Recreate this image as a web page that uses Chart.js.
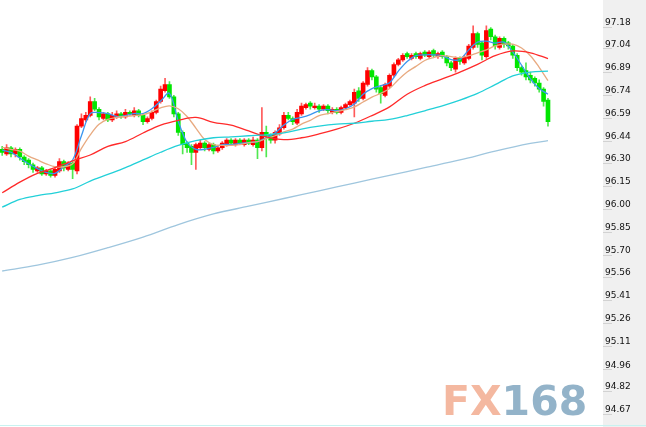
<!DOCTYPE html>
<html>
<head>
<meta charset="utf-8">
<script src="https://cdn.jsdelivr.net/npm/chart.js@4.4.1/dist/chart.umd.min.js"></script>
<style>
  html, body { margin: 0; padding: 0; background: #fff; }
  #wrap { width: 646px; height: 427px; }
</style>
</head>
<body>
<div id="wrap"><canvas id="chart" width="646" height="427"></canvas></div>
<script>
// price axis labels (right side)
const yTicks = [97.18, 97.04, 96.89, 96.74, 96.59, 96.44, 96.30, 96.15, 96.00,
  95.85, 95.70, 95.56, 95.41, 95.26, 95.11, 94.96, 94.82, 94.67];

// candles, read left to right
const opens = [
  96.36,96.33,96.37,96.33,96.36,96.31,96.29,96.26,96.22,96.24,
  96.20,96.22,96.19,96.22,96.28,96.23,96.27,96.22,96.51,96.55,
  96.58,96.67,96.62,96.56,96.59,96.55,96.57,96.59,96.57,96.60,
  96.58,96.61,96.58,96.54,96.56,96.60,96.67,96.74,96.78,96.70,
  96.59,96.47,96.40,96.38,96.34,96.37,96.40,96.36,96.39,96.35,
  96.37,96.39,96.42,96.39,96.42,96.39,96.42,96.39,96.42,96.37,
  96.47,96.45,96.42,96.46,96.50,96.58,96.56,96.53,96.59,96.63,
  96.66,96.63,96.64,96.62,96.64,96.60,96.62,96.60,96.63,96.65,
  96.66,96.74,96.69,96.78,96.87,96.83,96.76,96.71,96.77,96.84,
  96.91,96.94,96.98,96.95,96.98,96.95,96.99,96.96,97.00,96.96,
  96.99,96.96,96.92,96.88,96.95,96.92,96.95,97.02,97.11,97.05,
  96.96,97.14,97.09,97.02,97.08,97.05,97.03,96.97,96.89,96.87,
  96.84,96.82,96.79,96.75,96.68];
const highs = [
  96.38,96.39,96.38,96.37,96.37,96.32,96.30,96.27,96.25,96.25,
  96.23,96.23,96.24,96.30,96.29,96.28,96.28,96.52,96.59,96.60,
  96.70,96.69,96.63,96.60,96.60,96.60,96.61,96.60,96.62,96.61,
  96.63,96.62,96.59,96.57,96.61,96.68,96.77,96.82,96.80,96.71,
  96.60,96.48,96.41,96.39,96.40,96.42,96.41,96.40,96.40,96.38,
  96.41,96.43,96.43,96.43,96.43,96.43,96.43,96.44,96.43,96.63,
  96.51,96.46,96.48,96.52,96.60,96.60,96.57,96.62,96.66,96.66,
  96.67,96.66,96.65,96.65,96.65,96.63,96.63,96.64,96.66,96.68,
  96.75,96.76,96.80,96.89,96.88,96.84,96.77,96.79,96.85,96.92,
  96.95,96.98,96.99,96.98,96.99,96.99,97.00,97.00,97.01,96.99,
  97.00,96.97,96.93,96.96,96.96,96.97,97.04,97.16,97.12,97.06,
  97.16,97.15,97.10,97.09,97.09,97.06,97.04,96.98,96.90,96.92,
  96.86,96.83,96.81,96.76,96.69];
const lows = [
  96.32,96.32,96.31,96.31,96.29,96.26,96.24,96.21,96.21,96.19,
  96.19,96.18,96.18,96.21,96.22,96.22,96.17,96.20,96.50,96.54,
  96.57,96.61,96.55,96.55,96.54,96.54,96.56,96.56,96.56,96.58,
  96.57,96.57,96.52,96.53,96.55,96.59,96.66,96.73,96.69,96.57,
  96.45,96.33,96.34,96.26,96.23,96.36,96.35,96.35,96.33,96.34,
  96.36,96.38,96.39,96.38,96.39,96.38,96.39,96.38,96.30,96.35,
  96.31,96.40,96.40,96.45,96.49,96.55,96.52,96.52,96.58,96.62,
  96.62,96.62,96.60,96.61,96.59,96.59,96.59,96.59,96.62,96.64,
  96.57,96.67,96.68,96.77,96.81,96.73,96.66,96.70,96.76,96.83,
  96.90,96.93,96.95,96.94,96.95,96.94,96.96,96.95,96.96,96.95,
  96.95,96.90,96.87,96.86,96.91,96.91,96.94,97.01,97.02,96.94,
  96.95,97.07,97.01,97.01,97.02,97.01,96.95,96.87,96.84,96.81,
  96.79,96.77,96.73,96.64,96.51];
const closes = [
  96.34,96.37,96.33,96.36,96.31,96.28,96.26,96.23,96.24,96.20,
  96.22,96.19,96.23,96.28,96.24,96.27,96.23,96.51,96.56,96.58,
  96.67,96.62,96.57,96.59,96.55,96.58,96.59,96.57,96.60,96.59,
  96.61,96.58,96.54,96.56,96.60,96.67,96.75,96.78,96.70,96.59,
  96.47,96.39,96.37,96.34,96.39,96.40,96.37,96.39,96.35,96.37,
  96.40,96.42,96.40,96.42,96.40,96.42,96.40,96.42,96.37,96.47,
  96.45,96.42,96.47,96.50,96.58,96.56,96.54,96.60,96.64,96.65,
  96.64,96.64,96.62,96.64,96.61,96.62,96.60,96.63,96.65,96.67,
  96.73,96.69,96.79,96.87,96.83,96.75,96.72,96.78,96.84,96.91,
  96.94,96.97,96.96,96.97,96.96,96.98,96.97,96.99,96.97,96.98,
  96.96,96.92,96.89,96.95,96.93,96.96,97.03,97.11,97.04,96.97,
  97.13,97.09,97.03,97.08,97.04,97.03,96.97,96.89,96.86,96.83,
  96.81,96.79,96.75,96.67,96.54];

// moving average lines, read at every 2nd candle (short ones)
const ma5 = [
  96.354,96.341,96.304,96.266,96.235,96.210,96.204,96.247,96.291,96.448,
  96.592,96.598,96.592,96.573,96.579,96.592,96.592,96.623,96.673,96.723,
  96.542,96.404,96.360,96.360,96.373,96.391,96.391,96.398,96.404,96.410,
  96.435,96.466,96.517,96.554,96.567,96.585,96.610,96.617,96.610,96.623,
  96.654,96.717,96.754,96.773,96.792,96.867,96.930,96.967,96.973,96.973,
  96.967,96.942,96.942,97.005,97.055,97.061,97.049,97.055,96.992,96.905,
  96.817,96.754,96.717];
const ma10 = [
  96.373,96.360,96.348,96.316,96.291,96.266,96.247,96.247,96.266,96.366,
  96.454,96.523,96.554,96.567,96.573,96.579,96.585,96.604,96.629,96.642,
  96.623,96.573,96.498,96.423,96.391,96.385,96.385,96.391,96.404,96.410,
  96.429,96.448,96.473,96.491,96.523,96.548,96.579,96.592,96.604,96.617,
  96.635,96.667,96.698,96.723,96.754,96.811,96.861,96.898,96.936,96.955,
  96.967,96.961,96.955,96.967,96.986,97.005,97.030,97.042,97.042,97.017,
  96.967,96.892,96.805];
// longer ones, read at every 4th candle
const ma30 = [
  96.078,96.147,96.204,96.241,96.285,96.323,96.379,96.410,96.466,96.517,
  96.548,96.567,96.535,96.517,96.479,96.441,96.423,96.435,96.460,96.491,
  96.529,96.579,96.635,96.717,96.773,96.817,96.861,96.911,96.967,96.998,
  96.986,96.948];
const ma60 = [
  95.985,96.035,96.060,96.078,96.103,96.154,96.197,96.241,96.291,96.341,
  96.385,96.416,96.435,96.441,96.448,96.454,96.466,96.491,96.510,96.523,
  96.529,96.542,96.554,96.579,96.610,96.642,96.679,96.723,96.779,96.836,
  96.861,96.867];
// longest one, candle index of each reading
const ma200Idx = [0, 8, 16, 24, 32, 40, 48, 56, 64, 72, 80, 88, 96, 104, 112, 120, 124];
const ma200 = [
  95.571,95.609,95.659,95.722,95.791,95.872,95.941,95.991,96.041,96.091,
  96.141,96.191,96.241,96.291,96.348,96.398,96.416];

const UP = '#ff0000', DOWN = '#00e600';
const UP_WICK = '#ff5a5a', DOWN_WICK = '#50e850';
const isUp = i => closes[i] >= opens[i];

const wicks = closes.map((c, i) => ({ x: i, y: [lows[i], highs[i]] }));
const bodies = closes.map((c, i) => ({ x: i, y: [opens[i], c] }));
const pts = (vals, step) => vals.map((v, k) => ({ x: k * step, y: v }));

// grey panel behind the price axis, small tick marks, bottom rule and FX168 mark
const decor = {
  id: 'decor',
  beforeDraw(chart) {
    const { ctx } = chart;
    const ys = chart.scales.y;
    ctx.save();
    ctx.fillStyle = '#f0f0f0';
    ctx.fillRect(ys.left, 0, ys.right - ys.left, chart.height);
    ctx.strokeStyle = '#d2d2d2';
    ctx.lineWidth = 1;
    ctx.beginPath();
    yTicks.forEach(v => {
      const y = Math.round(ys.getPixelForValue(v)) + 4.5;
      ctx.moveTo(ys.left, y);
      ctx.lineTo(ys.left + 9, y);
    });
    ctx.stroke();
    ctx.restore();
  },
  beforeDatasetsDraw(chart) {
    const { ctx } = chart;
    ctx.save();
    ctx.font = 'bold 41px "DejaVu Sans"';
    ctx.textBaseline = 'alphabetic';
    ctx.fillStyle = '#f4b8a0';
    ctx.fillText('FX', 442, 415);
    const w = ctx.measureText('FX').width;
    ctx.fillStyle = '#93b3c9';
    ctx.fillText('168', 442 + w, 415);
    ctx.restore();
  },
  afterDraw(chart) {
    const { ctx } = chart;
    ctx.save();
    ctx.strokeStyle = '#c8f2f0';
    ctx.lineWidth = 1;
    ctx.beginPath();
    ctx.moveTo(0, 425.5);
    ctx.lineTo(chart.width, 425.5);
    ctx.stroke();
    ctx.restore();
  }
};

const lineDs = (label, data, color) => ({
  type: 'line',
  label,
  data,
  borderColor: color,
  borderWidth: 1.3,
  pointRadius: 0,
  tension: 0.35,
  order: 0
});

new Chart(document.getElementById('chart'), {
  type: 'bar',
  data: {
    datasets: [
      lineDs('MA200', ma200.map((v, k) => ({ x: ma200Idx[k], y: v })), '#9fc6de'),
      lineDs('MA60', pts(ma60, 4), '#22d0d8'),
      lineDs('MA30', pts(ma30, 4), '#ff2a2a'),
      lineDs('MA10', pts(ma10, 2), '#e8aa80'),
      lineDs('MA5', pts(ma5, 2), '#3a96f0'),
      {
        label: 'body',
        data: bodies,
        backgroundColor: bodies.map((b, i) => isUp(i) ? UP : DOWN),
        barThickness: 4,
        minBarLength: 1,
        grouped: false,
        order: 1
      },
      {
        label: 'wick',
        data: wicks,
        backgroundColor: wicks.map((w, i) => isUp(i) ? UP_WICK : DOWN_WICK),
        barThickness: 1,
        grouped: false,
        order: 2
      }
    ]
  },
  options: {
    responsive: false,
    animation: false,
    devicePixelRatio: 1,
    layout: { padding: 0 },
    plugins: { legend: { display: false }, tooltip: { enabled: false } },
    scales: {
      x: {
        type: 'linear',
        display: false,
        offset: false,
        min: -0.5,
        max: 136.5
      },
      y: {
        position: 'right',
        min: 94.6074,
        max: 97.2802,
        afterBuildTicks: s => { s.ticks = yTicks.map(v => ({ value: v })); },
        afterFit: s => { s.width = 43; },
        grid: { display: false, drawTicks: false },
        border: { display: false },
        ticks: {
          autoSkip: false,
          padding: 2,
          color: '#111',
          font: { family: 'DejaVu Sans', size: 9 },
          callback: v => v.toFixed(2)
        }
      }
    }
  },
  plugins: [decor]
});
</script>
</body>
</html>
